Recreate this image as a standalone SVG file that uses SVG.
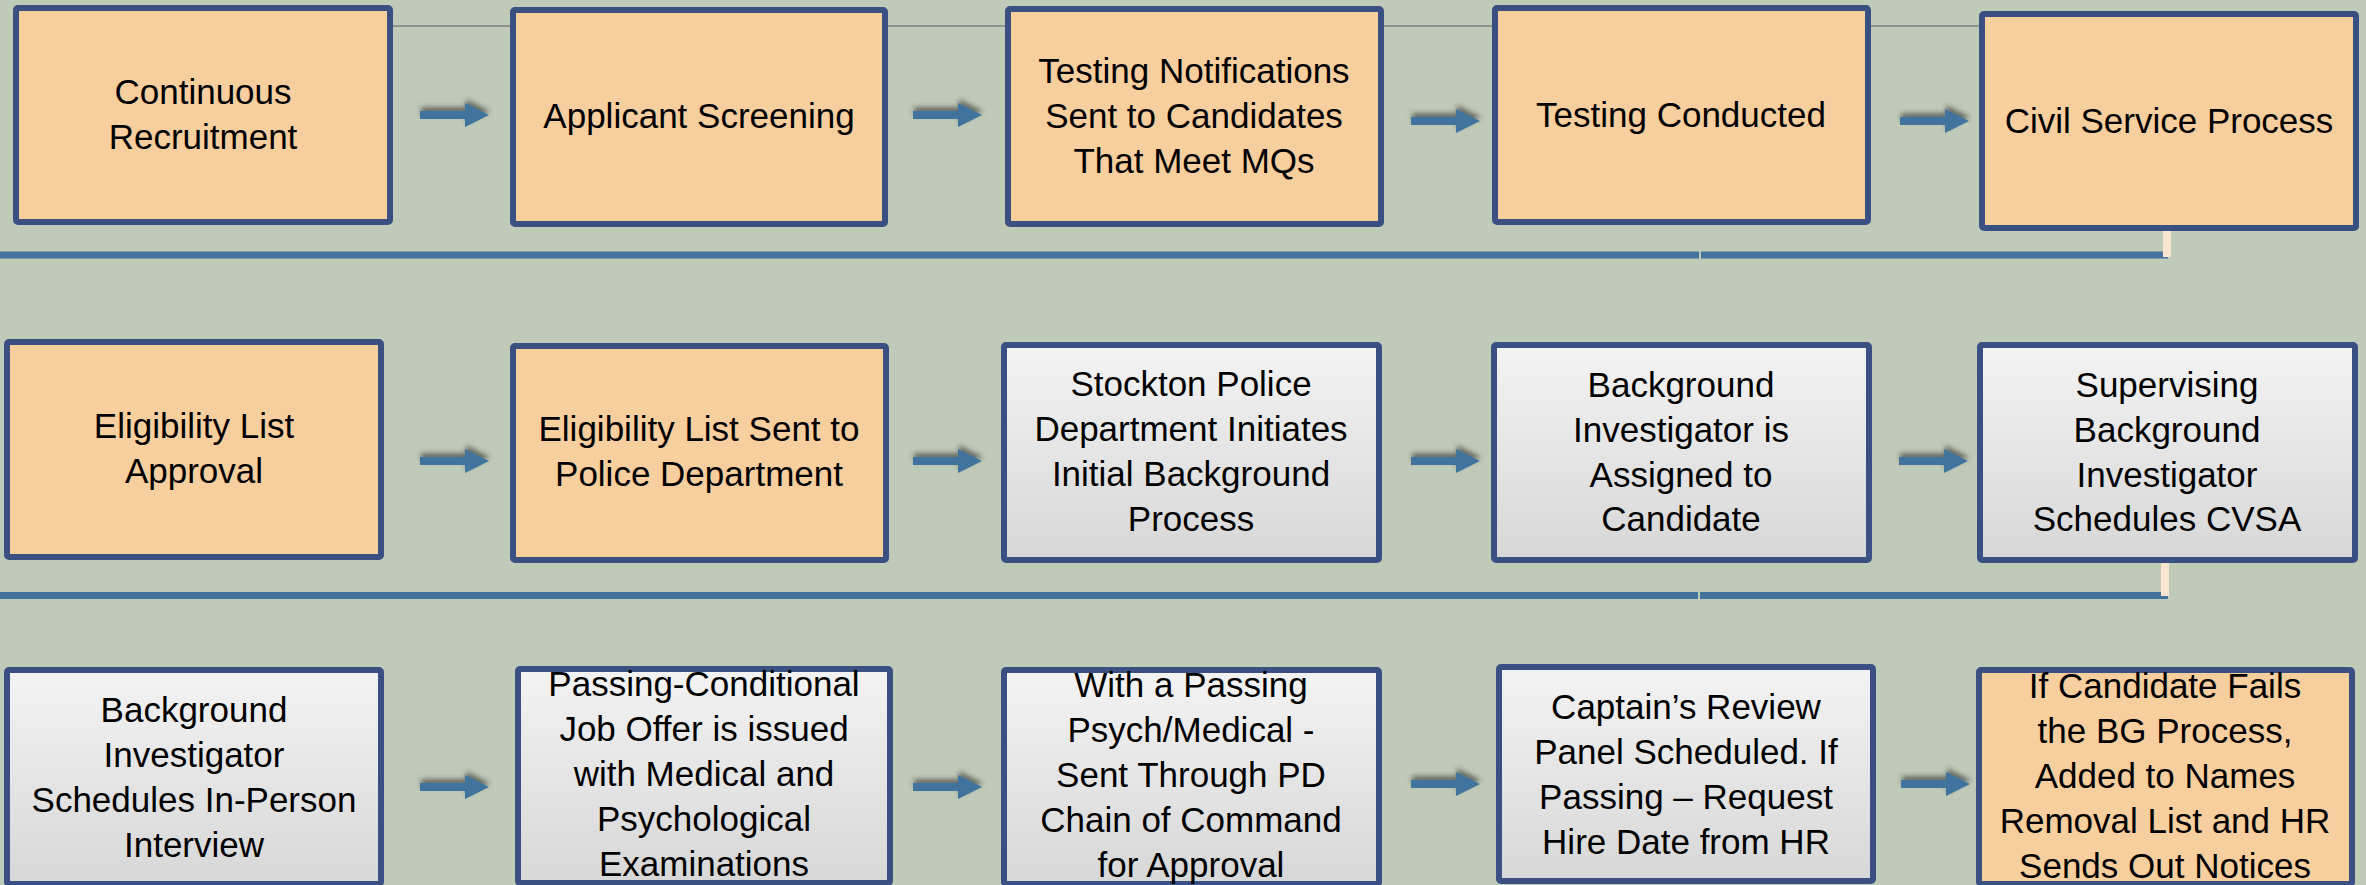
<svg xmlns="http://www.w3.org/2000/svg" width="2366" height="885" viewBox="0 0 2366 885">
<defs>
<linearGradient id="gray" x1="0" y1="0" x2="0" y2="1">
<stop offset="0" stop-color="#F3F3F3"/>
<stop offset="1" stop-color="#D7D7D7"/>
</linearGradient>
<filter id="sh" x="-30%" y="-80%" width="160%" height="260%">
<feDropShadow dx="1" dy="-4" stdDeviation="2.5" flood-color="#2a2f2a" flood-opacity="0.6"/>
</filter>
<path id="arr" d="M0,-4 H45 V-12 L69,0 L45,12 V4 H0 Z"/>
</defs>
<style>
.bg{fill:#C0CAB8}
.box{stroke:#3A5082;stroke-width:6;}
.or{fill:#F7CE9D}
.gr{fill:url(#gray)}
.t{font-family:"Liberation Sans",Arial,sans-serif;font-size:35px;fill:#000;text-anchor:middle}
.hl{stroke:#41739D;stroke-width:7;fill:none}
.cr{fill:#FAE6CF}
.a{fill:#41739D;filter:url(#sh)}
</style>
<rect class="bg" x="0" y="0" width="2366" height="885"/>

<g id="connectors">
<line x1="393" y1="26" x2="1979" y2="26" stroke="#8E938D" stroke-width="2"/>
<line class="hl" x1="0" y1="255" x2="1699" y2="255"/>
<line class="hl" x1="1701" y1="255" x2="2168" y2="255"/>
<rect class="cr" x="2163" y="229" width="8" height="28"/>
<line class="hl" x1="0" y1="595.5" x2="1698" y2="595.5"/>
<line class="hl" x1="1700" y1="595.5" x2="2168" y2="595.5"/>
<rect class="cr" x="2161" y="563" width="8" height="33"/>
<use href="#arr" class="a" x="420" y="115"/>
<use href="#arr" class="a" x="913" y="115"/>
<use href="#arr" class="a" x="1411" y="121"/>
<use href="#arr" class="a" x="1900" y="121"/>
<use href="#arr" class="a" x="420" y="461"/>
<use href="#arr" class="a" x="913" y="461"/>
<use href="#arr" class="a" x="1411" y="461"/>
<use href="#arr" class="a" x="1899" y="461"/>
<use href="#arr" class="a" x="420" y="787"/>
<use href="#arr" class="a" x="913" y="787"/>
<use href="#arr" class="a" x="1411" y="784"/>
<use href="#arr" class="a" x="1901" y="784"/>
</g>

<g id="n1"><rect class="box or" x="16" y="8" width="374" height="214" rx="2"/>
<text class="t"><tspan x="203" y="104">Continuous</tspan><tspan x="203" y="149">Recruitment</tspan></text></g>
<g id="n2"><rect class="box or" x="513" y="10" width="372" height="214" rx="2"/>
<text class="t"><tspan x="699" y="128">Applicant Screening</tspan></text></g>
<g id="n3"><rect class="box or" x="1008" y="9" width="373" height="215" rx="2"/>
<text class="t"><tspan x="1194" y="83">Testing Notifications</tspan><tspan x="1194" y="128">Sent to Candidates</tspan><tspan x="1194" y="173">That Meet MQs</tspan></text></g>
<g id="n4"><rect class="box or" x="1495" y="8" width="373" height="214" rx="2"/>
<text class="t"><tspan x="1681" y="127">Testing Conducted</tspan></text></g>
<g id="n5"><rect class="box or" x="1982" y="14" width="374" height="214" rx="2"/>
<text class="t"><tspan x="2169" y="133">Civil Service Process</tspan></text></g>

<g id="n6"><rect class="box or" x="7" y="342" width="374" height="215" rx="2"/>
<text class="t"><tspan x="194" y="438">Eligibility List</tspan><tspan x="194" y="483">Approval</tspan></text></g>
<g id="n7"><rect class="box or" x="513" y="346" width="373" height="214" rx="2"/>
<text class="t"><tspan x="699" y="441">Eligibility List Sent to</tspan><tspan x="699" y="486">Police Department</tspan></text></g>
<g id="n8"><rect class="box gr" x="1004" y="345" width="375" height="215" rx="2"/>
<text class="t"><tspan x="1191" y="396">Stockton Police</tspan><tspan x="1191" y="441">Department Initiates</tspan><tspan x="1191" y="486">Initial Background</tspan><tspan x="1191" y="531">Process</tspan></text></g>
<g id="n9"><rect class="box gr" x="1494" y="345" width="375" height="215" rx="2"/>
<text class="t"><tspan x="1681" y="397">Background</tspan><tspan x="1681" y="442">Investigator is</tspan><tspan x="1681" y="487">Assigned to</tspan><tspan x="1681" y="531">Candidate</tspan></text></g>
<g id="n10"><rect class="box gr" x="1980" y="345" width="375" height="215" rx="2"/>
<text class="t"><tspan x="2167" y="397">Supervising</tspan><tspan x="2167" y="442">Background</tspan><tspan x="2167" y="487">Investigator</tspan><tspan x="2167" y="531">Schedules CVSA</tspan></text></g>

<g id="n11"><rect class="box gr" x="7" y="670" width="374" height="214" rx="2"/>
<text class="t"><tspan x="194" y="722">Background</tspan><tspan x="194" y="767">Investigator</tspan><tspan x="194" y="812">Schedules In-Person</tspan><tspan x="194" y="857">Interview</tspan></text></g>
<g id="n12"><rect class="box gr" x="518" y="669" width="372" height="214" rx="2"/>
<text class="t"><tspan x="704" y="696">Passing-Conditional</tspan><tspan x="704" y="741">Job Offer is issued</tspan><tspan x="704" y="786">with Medical and</tspan><tspan x="704" y="831">Psychological</tspan><tspan x="704" y="876">Examinations</tspan></text></g>
<g id="n13"><rect class="box gr" x="1004" y="670" width="375" height="214" rx="2"/>
<text class="t"><tspan x="1191" y="697">With a Passing</tspan><tspan x="1191" y="742">Psych/Medical -</tspan><tspan x="1191" y="787">Sent Through PD</tspan><tspan x="1191" y="832">Chain of Command</tspan><tspan x="1191" y="877">for Approval</tspan></text></g>
<g id="n14"><rect class="box gr" x="1499" y="667" width="374" height="214" rx="2"/>
<text class="t"><tspan x="1686" y="719">Captain’s Review</tspan><tspan x="1686" y="764">Panel Scheduled. If</tspan><tspan x="1686" y="809">Passing – Request</tspan><tspan x="1686" y="854">Hire Date from HR</tspan></text></g>
<g id="n15"><rect class="box or" x="1979" y="670" width="373" height="214" rx="2"/>
<text class="t"><tspan x="2165" y="698">If Candidate Fails</tspan><tspan x="2165" y="743">the BG Process,</tspan><tspan x="2165" y="788">Added to Names</tspan><tspan x="2165" y="833">Removal List and HR</tspan><tspan x="2165" y="878">Sends Out Notices</tspan></text></g>
</svg>
